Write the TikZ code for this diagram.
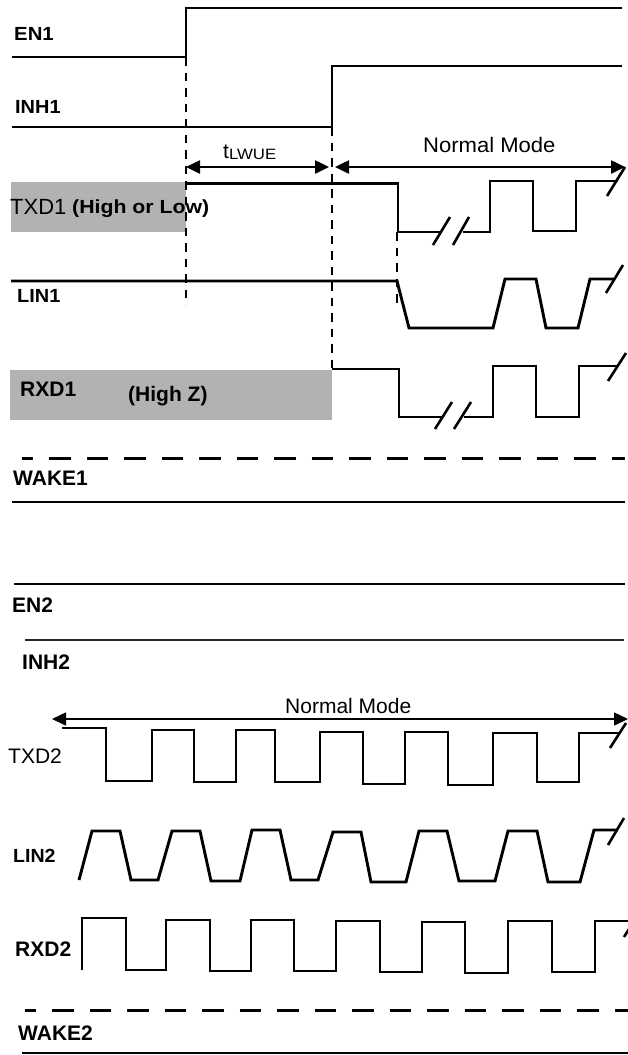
\documentclass[tikz,border=0pt]{standalone}
\usepackage{fontspec}
\setmainfont{Liberation Sans}
\usepackage{graphicx}
\usetikzlibrary{arrows.meta}
\definecolor{boxgray}{RGB}{178,178,178}
\begin{document}
\begin{tikzpicture}[x=1pt,y=-1pt,
  sig/.style={line width=2.9pt, line join=miter},
  vdash/.style={line width=2.1pt, dash pattern=on 8.5pt off 7pt},
  hdash/.style={line width=3pt, dash pattern=on 21.5pt off 16pt},
  brk/.style={line width=2.6pt},
  dimarrow/.style={line width=2.5pt, {Triangle[length=14pt,width=13pt]}-{Triangle[length=14pt,width=13pt]}},
  thinarrow/.style={line width=1.5pt, {Triangle[length=14pt,width=13pt]}-{Triangle[length=14pt,width=13pt]}},
  lab/.style={anchor=base west, inner sep=0pt, font=\fontsize{21}{21}\selectfont\bfseries},
  slab/.style={anchor=base west, inner sep=0pt, font=\fontsize{19}{19}\selectfont\bfseries},
  rlab/.style={anchor=base west, inner sep=0pt, font=\fontsize{21}{21}\selectfont},
  graybox/.style={fill=boxgray, draw=none}
]
\useasboundingbox (0,0) rectangle (628,1055);
\clip (0,0) rectangle (628,1055);

% ---------- EN1 / INH1 ----------
\draw[sig] (12,57) -- (186,57) -- (186,8) -- (622,8);
\node[slab] (en1) at (14,40.5) {\scalebox{1.07}[1]{EN1}};
\draw[sig] (12,127) -- (332,127) -- (332,66) -- (622,66);
\node[slab] (inh1) at (15,113) {\scalebox{1.05}[1]{INH1}};

% ---------- TXD1 ----------
\fill[graybox] (11,182) rectangle (186,232);
\node[rlab] (txd1) at (10,214) {\fontsize{22}{22}\selectfont TXD1};
\node[anchor=base west, inner sep=0pt, font=\fontsize{19}{19}\selectfont\bfseries] (hl) at (72,213) {\scalebox{1.12}[1]{(High or Low)}};
\draw[sig] (186,183.5) -- (398,183.5) -- (398,232) -- (441,232);
\draw[sig] (463,232) -- (490,232) -- (490,181) -- (533,181) -- (533,231) -- (576,231) -- (576,181) -- (618,181);
\draw[brk] (433,245) -- (450,217);
\draw[brk] (453,245) -- (469,217);
\draw[brk] (607,196) -- (625,167);

% ---------- LIN1 ----------
\draw[sig] (11,281) -- (397,281) -- (409,328) -- (493,328) -- (505,279) -- (536,279) -- (546,328) -- (578,328) -- (590,279) -- (615,279);
\draw[brk] (606,293) -- (623,265);
\node[slab] (lin1) at (17,302.5) {\scalebox{1.05}[1]{LIN1}};

% ---------- RXD1 ----------
\fill[graybox] (10,370) rectangle (332,420);
\node[lab] (rxd1) at (20,396) {RXD1};
\node[lab] (hz) at (128,401) {(High Z)};
\draw[sig] (332,369) -- (399,369) -- (399,417) -- (443,417);
\draw[sig] (464,417) -- (493,417) -- (493,366) -- (536,366) -- (536,417) -- (579,417) -- (579,366) -- (618,366);
\draw[brk] (435,429) -- (452,402);
\draw[brk] (454,429) -- (471,402);
\draw[brk] (608,381) -- (626,353);

% ---------- WAKE1 ----------
\draw[hdash, dash phase=10.5pt] (22,458) -- (625,458);
\node[lab] (wake1) at (13,485) {WAKE1};
\draw[sig] (12,502) -- (625,502);

% ---------- timing marks ----------
\coordinate (d1top) at (186,57);
\coordinate (d1bot) at (186,305);
\coordinate (d2top) at (332,127);
\coordinate (d2bot) at (332,369);
\coordinate (d3top) at (397,232);
\coordinate (d3bot) at (397,303);
\draw[vdash] (d1top) -- (d1bot);
\draw[vdash] (d2top) -- (d2bot);
\draw[vdash] (d3top) -- (d3bot);

\coordinate (tl) at (186,167);
\coordinate (tr) at (329,167);
\coordinate (nl) at (335,167);
\coordinate (nr) at (625,167);
\draw[dimarrow] (tl) -- (tr);
\draw[dimarrow] (nl) -- (nr);
\node[anchor=base west, inner sep=0pt] (tlwue) at (223,158)
  {\fontsize{21}{21}\selectfont t\raisebox{-1.5pt}{\fontsize{15}{15}\selectfont\scalebox{1.12}[1]{LWUE}}};
\node[rlab] (nm1) at (423,152.5) {\scalebox{1.05}[1]{Normal Mode}};

% ---------- EN2 / INH2 ----------
\draw[sig] (14,584) -- (625,584);
\node[lab] (en2) at (12,612) {EN2};
\draw[line width=2.5pt, black!85] (25,640) -- (624,640);
\node[lab] (inh2) at (22,669) {INH2};

% ---------- Normal mode 2 ----------
\coordinate (ml) at (52,719);
\coordinate (mr) at (628,719);
\draw[thinarrow] (ml) -- (mr);
\node[rlab] (nm2) at (285,713) {Normal Mode};

% ---------- TXD2 ----------
\node[rlab] (txd2) at (8,763) {TXD2};
\draw[sig] (62,728) -- (106,728) -- (106,781) -- (152,781) -- (152,730) -- (194,730) -- (194,782) -- (236,782) -- (236,730) -- (275,730) -- (275,782) -- (320,782) -- (320,732) -- (363,732) -- (363,784) -- (405,784) -- (405,732) -- (448,732) -- (448,785) -- (493,785) -- (493,733) -- (537,733) -- (537,782) -- (579,782) -- (579,733) -- (621,733);
\draw[brk] (610,748) -- (626,723);

% ---------- LIN2 ----------
\node[slab] (lin2) at (13,862) {\scalebox{1.03}[1]{LIN2}};
\draw[sig] (79,880) -- (92,831) -- (120,831) -- (131,880) -- (158,880) -- (172,831) -- (200,831) -- (211,881) -- (240,881) -- (252,830) -- (280,830) -- (291,880) -- (318,880) -- (333,832) -- (361,832) -- (371,882) -- (406,882) -- (419,831) -- (447,831) -- (459,881) -- (495,881) -- (508,831) -- (537,831) -- (548,882) -- (580,882) -- (594,830) -- (617,830);
\draw[brk] (608,845) -- (624,818);

% ---------- RXD2 ----------
\node[lab] (rxd2) at (15,956) {RXD2};
\draw[sig] (82,970) -- (82,918) -- (126,918) -- (126,970) -- (166,970) -- (166,920) -- (210,920) -- (210,971) -- (251,971) -- (251,920) -- (294,920) -- (294,971) -- (336,971) -- (336,921) -- (380,921) -- (380,972) -- (422,972) -- (422,922) -- (465,922) -- (465,973) -- (508,973) -- (508,921) -- (552,921) -- (552,972) -- (595,972) -- (595,921) -- (630,921);
\draw[brk] (624,937) -- (641,910);

% ---------- WAKE2 ----------
\draw[hdash, dash phase=10.5pt] (25,1010) -- (628,1010);
\node[lab] (wake2) at (18,1040) {WAKE2};
\draw[sig] (22,1053) -- (630,1053);
\end{tikzpicture}
\end{document}
